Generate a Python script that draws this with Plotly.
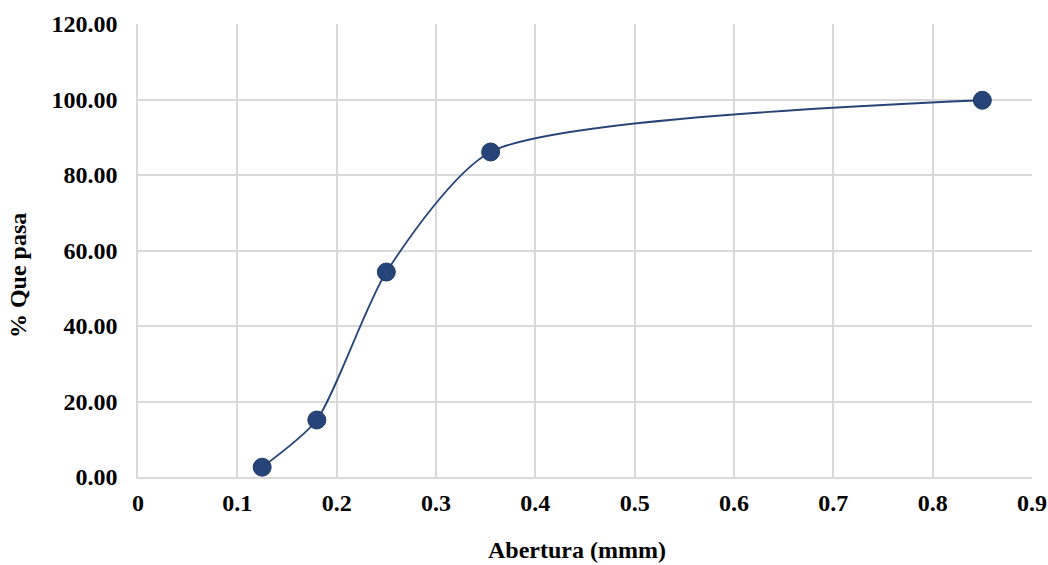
import plotly.graph_objects as go

abertura = [0.125, 0.18, 0.25, 0.355, 0.85]
que_pasa = [2.6, 15.1, 54.3, 86.1, 99.8]
x_ticks = [0, 0.1, 0.2, 0.3, 0.4, 0.5, 0.6, 0.7, 0.8, 0.9]
x_labels = ["0", "0.1", "0.2", "0.3", "0.4", "0.5", "0.6", "0.7", "0.8", "0.9"]
y_ticks = [0, 20, 40, 60, 80, 100, 120]
x_title = "Abertura (mmm)"
y_title = "% Que pasa"

font_family = "Liberation Serif"
navy = "#264478"
grid = "#d9d9d9"
fs = 24

fig = go.Figure()
fig.add_trace(go.Scatter(
    x=abertura, y=que_pasa, mode="lines+markers",
    line=dict(color=navy, width=1.8, shape="spline", smoothing=0.65),
    marker=dict(color=navy, size=18, line=dict(color="#1f3a68", width=1)),
    showlegend=False, cliponaxis=False,
))

fig.update_layout(
    width=1048, height=565,
    margin=dict(l=138, r=16, t=24, b=88, autoexpand=False),
    paper_bgcolor="white", plot_bgcolor="white",
    font=dict(family=font_family, size=fs, color="black"),
)
fig.update_xaxes(
    range=[0, 0.9], tickvals=x_ticks, ticktext=x_labels,
    showgrid=True, gridcolor=grid, gridwidth=1.5, automargin=False,
    showline=True, linecolor=grid, linewidth=1.5, zeroline=False,
    tickfont=dict(family=font_family, size=fs, color="black", weight="bold"),
    ticks="outside", ticklen=3, tickcolor="rgba(0,0,0,0)",
)
fig.update_yaxes(
    range=[0, 120], tickvals=y_ticks, tickformat=".2f",
    showgrid=True, gridcolor=grid, gridwidth=1.5, automargin=False,
    showline=True, linecolor=grid, linewidth=1.5, zeroline=False,
    tickfont=dict(family=font_family, size=fs, color="black", weight="bold"),
    ticks="outside", ticklen=14, tickcolor="rgba(0,0,0,0)",
)
fig.add_annotation(
    text=f"<b>{x_title}</b>", xref="paper", yref="paper",
    x=0.491, y=-0.161, xanchor="center", yanchor="middle",
    showarrow=False, font=dict(family=font_family, size=fs, color="black"),
)
fig.add_annotation(
    text=f"<b>{y_title}</b>", xref="paper", yref="paper",
    x=-0.134, y=0.444, xanchor="center", yanchor="middle", textangle=-90,
    showarrow=False, font=dict(family=font_family, size=fs, color="black"),
)

fig.write_html(
    "out.html",
    config={"displayModeBar": False},
    post_script="document.body.style.margin='0px';document.body.style.overflow='hidden';",
)
